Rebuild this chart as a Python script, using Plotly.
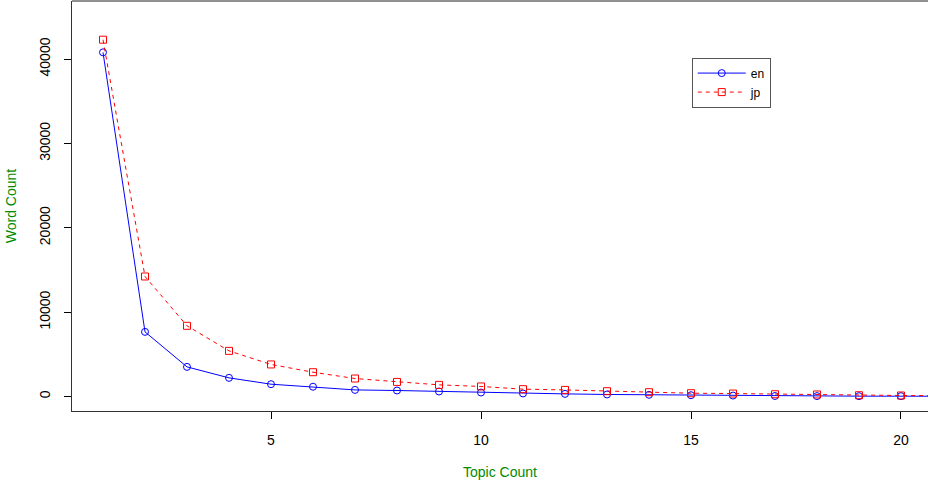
import plotly.graph_objects as go

topics = list(range(1, 22))
en_counts = [40800, 7660, 3510, 2210, 1460, 1160, 780, 710, 590, 470, 360, 310,
             240, 200, 150, 110, 60, 50, 40, 40, 30]
jp_counts = [42300, 14230, 8380, 5410, 3800, 2880, 2130, 1730, 1380, 1190, 870, 780,
             630, 510, 390, 350, 270, 240, 150, 120, 100]
x_ticks = [5, 10, 15, 20]
y_ticks = [0, 10000, 20000, 30000, 40000]
y_tick_labels = ["0", "10000", "20000", "30000", "40000"]

FONT = "Liberation Sans, Arial, Helvetica, sans-serif"
GREEN = "#008B00"

fig = go.Figure()
fig.add_trace(go.Scatter(
    x=topics, y=en_counts, name="en", mode="lines+markers",
    line=dict(color="#0000FF", width=1),
    marker=dict(symbol="circle-open", size=7, color="#0000FF", line=dict(width=1, color="#0000FF")),
))
fig.add_trace(go.Scatter(
    x=topics, y=jp_counts, name="jp", mode="lines+markers",
    line=dict(color="#FF0000", width=1, dash="4px,4px"),
    marker=dict(symbol="square-open", size=7, color="#FF0000", line=dict(width=1, color="#FF0000")),
))

fig.update_layout(
    width=928, height=486,
    margin=dict(l=72, r=0, t=1, b=75),
    paper_bgcolor="white", plot_bgcolor="white",
    font=dict(family=FONT, size=14, color="black"),
    showlegend=True,
    legend=dict(
        x=0.724, y=0.862, xanchor="left", yanchor="top",
        bordercolor="#555555", borderwidth=1, bgcolor="white",
        font=dict(size=12, family=FONT), tracegroupgap=0,
        itemwidth=48, entrywidth=32, entrywidthmode="pixels",
    ),
    shapes=[dict(type="line", xref="paper", yref="paper", x0=0, x1=1, y0=1, y1=1,
                 line=dict(color="#222222", width=1))],
)
fig.update_xaxes(
    range=[0.2619, 20.643], tickvals=x_ticks, ticks="outside", ticklen=7,
    tickcolor="black", showline=True, linecolor="#333333", linewidth=1,
    showgrid=False, zeroline=False, ticklabelstandoff=9,
    tickfont=dict(size=14),
    title=dict(text="Topic Count", font=dict(color=GREEN, size=14, family=FONT), standoff=20),
    automargin=False,
)
fig.update_yaxes(
    range=[-1719, 46888], tickvals=y_ticks, ticktext=y_tick_labels, ticks="outside", ticklen=7,
    tickcolor="black", showline=True, linecolor="#333333", linewidth=1,
    showgrid=False, zeroline=False, tickangle=-90, ticklabelstandoff=8,
    tickfont=dict(size=14),
    title=dict(text="Word Count", font=dict(color=GREEN, size=14, family=FONT), standoff=17),
    automargin=False,
)

fig.write_html("out.html", config={"displayModeBar": False},
               post_script="document.body.style.margin='0';document.body.style.overflow='hidden';")
